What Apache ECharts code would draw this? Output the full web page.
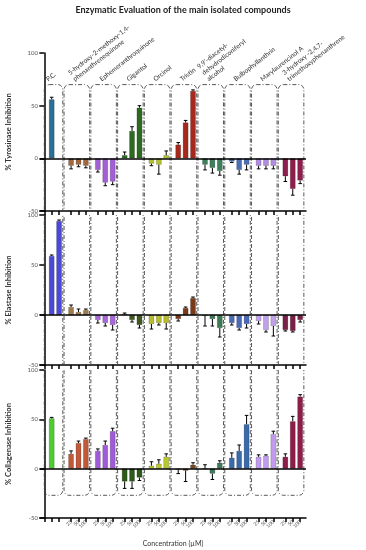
<!DOCTYPE html>
<html>
<head>
<meta charset="utf-8">
<script src="https://cdn.jsdelivr.net/npm/echarts@6/dist/echarts.min.js"></script>
<style>html,body{margin:0;padding:0;background:#fff}#chart{width:366px;height:550px}</style>
</head>
<body>
<div id="chart"></div>
<script>
var compounds = ['P.C.', '5-hydroxy-2-methoxy-1,4-\nphenanthrenequinone', 'Ephemeranthroquinone', 'Gigantol', 'Orcinol',
  'Tristin', '9,9\'-diacetyl-\ndehydrodiconiferyl\nalcohol', 'Bulbophyllanthrin', 'Marylaurencinol A', '3-hydroxy -2,4,7-\ntrimethoxyphenanthrene'];
var doses = ['25', '50', '100'];

// % inhibition, 3 concentrations per compound (P.C. only where drawn)
var tyrosinase = [[null,56,null],[-7,-6,-7],[-11,-23,-22],[3,26,48],[-5,-6,3],[13,34,64],[-6,-9,-12],[-3,-11,-6],[-7,-7,-7],[-17,-29,-21]];
var tyrosinaseSd = [[0,2,0],[3,2,2],[2,3,3],[3,4,2],[2,9,4],[2,2,1],[5,5,4],[1,4,5],[3,3,3],[5,6,3]];
var elastase = [[null,59,94],[8,3,5],[-5,-8,-10],[1,-5,-10],[-9,-8,-8],[-4,7,17],[-1,-4,-13],[-8,-13,-9],[-6,-15,-11],[-15,-16,-5]];
var elastaseSd = [[0,1,1],[2,3,1],[3,3,5],[1,2,3],[5,2,6],[2,1,1],[10,7,9],[2,2,4],[3,2,10],[1,1,2]];
var collagenase = [[null,51,null],[15,26,30],[18,24,38],[-13,-13,-9],[3,5,12],[-1,-2,4],[0,-5,6],[11,18,45],[12,13,35],[12,48,73]];
var collagenaseSd = [[0,1,0],[3,2,1],[2,4,3],[7,7,3],[4,4,3],[4,11,2],[4,6,2],[5,6,9],[2,1,3],[3,5,2]];

var tyrColors = ['#2a6f96','#a0683f','#a35fd6','#2b6b1f','#b5c22c','#a8291c','#3e7f5c','#4a6fb5','#b28ce0','#8e1e4e'];
var elaColors = ['#4b4ad8','#a07a4a','#a766d9','#3f5a1e','#b8bb2a','#7a3a18','#3c7a55','#4a6ab8','#c0a0ea','#7a1f45'];
var colColors = ['#4ccc2e','#c0583a','#a05cd8','#2b5a1a','#b8c82e','#7a4a20','#3f7a5a','#3a6aaa','#c29af0','#8e1d4a'];

var STEP = 3.62;
var FONT = 'Lato';
function xPos(g, k){ return g * STEP + k; }

var tickVals = [], doseVals = [], doseMap = {}, nameVals = [], nameMap = {};
compounds.forEach(function(c, g){
  nameVals.push(xPos(g, 0.7));
  nameMap[xPos(g, 0.7).toFixed(2)] = c;
  doses.forEach(function(d, k){
    tickVals.push(xPos(g, k));
    if(g > 0){ doseVals.push(xPos(g, k)); doseMap[xPos(g, k).toFixed(2)] = d; }
  });
});

function barData(vals, colors){
  var out = [];
  vals.forEach(function(grp, g){
    grp.forEach(function(v, k){
      if(v === null) return;
      out.push({value: [xPos(g, k), v], itemStyle: {color: colors[g]}});
    });
  });
  return out;
}
function errData(vals, sds){
  var out = [];
  vals.forEach(function(grp, g){
    grp.forEach(function(v, k){
      if(v === null) return;
      out.push([xPos(g, k), v, sds[g][k]]);
    });
  });
  return out;
}
function renderErr(params, api){
  var x = api.value(0), v = api.value(1), sd = api.value(2);
  var dir = v < 0 ? -1 : 1;
  var p0 = api.coord([x, v]), p1 = api.coord([x, v + dir * sd]);
  var st = {stroke: '#000', lineWidth: 1};
  return {type: 'group', children: [
    {type: 'line', shape: {x1: p0[0], y1: p0[1], x2: p1[0], y2: p1[1]}, style: st},
    {type: 'line', shape: {x1: p1[0] - 1.8, y1: p1[1], x2: p1[0] + 1.8, y2: p1[1]}, style: st}
  ]};
}
function boxRender(yTop, yBot){
  return function(params, api){
    var g = api.value(0);
    var a = api.coord([g * STEP - (g === 0 ? 0 : 0.95), yTop]);
    var b = api.coord([g * STEP + 2.5, yBot]);
    return {type: 'rect', shape: {x: a[0], y: a[1], width: b[0] - a[0], height: b[1] - a[1], r: 5},
      style: {fill: 'none', stroke: '#444', lineWidth: 0.9, lineDash: [4, 2, 1, 2]}};
  };
}

var grids = [
  {left: 40, width: 266, top: 53, height: 158, outerBoundsMode: 'none'},
  {left: 40, width: 266, top: 215, height: 150, outerBoundsMode: 'none'},
  {left: 40, width: 266, top: 370, height: 148, outerBoundsMode: 'none'}
];
var yNames = ['% Tyrosinase Inhibition', '% Elastase Inhibition', '% Collagenase Inhibition'];

function bottomX(i, withLabels){
  return {
    type: 'value', gridIndex: i, min: -0.58, max: 35.37, position: 'bottom',
    axisLine: {show: true, onZero: false, lineStyle: {color: '#000', width: 1.5}},
    axisTick: {show: true, customValues: tickVals, length: 4, lineStyle: {color: '#000', width: 1.5}},
    axisLabel: withLabels ? {show: true, customValues: doseVals, rotate: 45, fontSize: 5, color: '#555', margin: 3,
      hideOverlap: false, fontFamily: FONT, formatter: function(v){ return doseMap[v.toFixed(2)] || ''; }} : {show: false},
    splitLine: {show: false},
    name: withLabels ? 'Concentration (µM)' : '', nameLocation: 'middle', nameGap: 22,
    nameTextStyle: {fontSize: 7, color: '#333', fontFamily: FONT}
  };
}

var xAxes = [bottomX(0, false), bottomX(1, false), bottomX(2, true), {
  type: 'value', gridIndex: 0, min: -0.58, max: 35.37, position: 'top', offset: -32,
  axisLine: {show: false}, axisTick: {show: false}, splitLine: {show: false},
  axisLabel: {show: true, customValues: nameVals, rotate: 38, fontSize: 6.5, color: '#333', margin: 2,
    align: 'left', verticalAlign: 'bottom', lineHeight: 8, fontFamily: FONT, hideOverlap: false,
    formatter: function(v){ return nameMap[v.toFixed(2)] || ''; }}
}];

var yAxes = yNames.map(function(n, i){
  return {
    type: 'value', gridIndex: i, min: -50, max: 100, interval: 50,
    axisLine: {show: true, lineStyle: {color: '#000', width: 1.5}},
    axisTick: {show: true, length: 5, lineStyle: {color: '#000', width: 1.5}},
    axisLabel: {fontSize: 6, color: '#555', margin: 2, fontFamily: FONT},
    splitLine: {show: false},
    name: n, nameLocation: 'middle', nameGap: 27,
    nameTextStyle: {fontSize: 7.5, fontWeight: 'bold', color: '#333', fontFamily: FONT}
  };
});

var panels = [
  {vals: tyrosinase, sds: tyrosinaseSd, colors: tyrColors, box: [70, -80]},
  {vals: elastase, sds: elastaseSd, colors: elaColors, box: [130, -80]},
  {vals: collagenase, sds: collagenaseSd, colors: colColors, box: [130, -27]}
];
var series = [];
panels.forEach(function(p, i){
  series.push({
    type: 'custom', xAxisIndex: i, yAxisIndex: i, clip: true, z: 1, silent: true,
    data: compounds.map(function(c, g){ return [g]; }),
    renderItem: boxRender(p.box[0], p.box[1])
  });
  series.push({
    type: 'bar', xAxisIndex: i, yAxisIndex: i, barWidth: 5.5, z: 2,
    itemStyle: {borderColor: 'rgba(0,0,0,0.35)', borderWidth: 0.5},
    data: barData(p.vals, p.colors),
    markLine: {silent: true, symbol: 'none', label: {show: false},
      lineStyle: {color: '#000', width: 1.5, type: 'solid'}, data: [{yAxis: 0}]}
  });
  series.push({
    type: 'custom', xAxisIndex: i, yAxisIndex: i, z: 3, silent: true,
    data: errData(p.vals, p.sds), renderItem: renderErr
  });
});

var chart = echarts.init(document.getElementById('chart'), null, {renderer: 'canvas'});
chart.setOption({
  animation: false,
  backgroundColor: '#fff',
  title: {text: 'Enzymatic Evaluation of the main isolated compounds', left: 'center', top: 1,
    textStyle: {fontSize: 9, fontWeight: 'bold', color: '#222', fontFamily: FONT}},
  grid: grids,
  xAxis: xAxes,
  yAxis: yAxes,
  series: series
});
</script>
</body>
</html>
